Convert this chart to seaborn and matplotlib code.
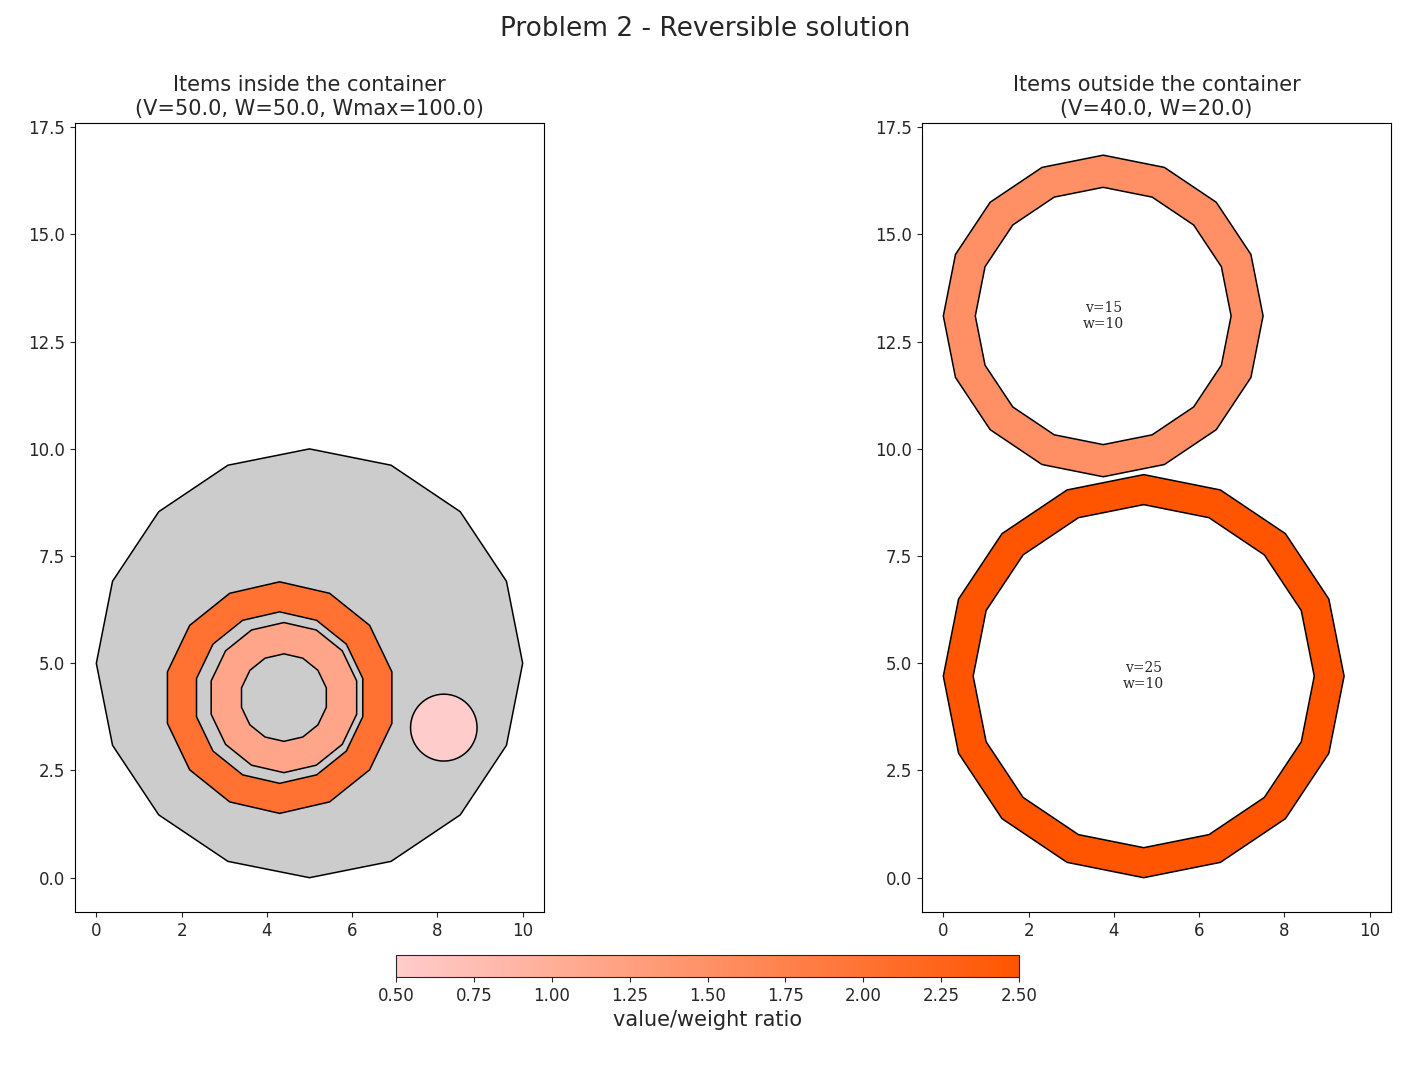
import numpy as np
import matplotlib
matplotlib.use("Agg")
import matplotlib.pyplot as plt
import seaborn as sns
from matplotlib.path import Path
from matplotlib.patches import PathPatch
from matplotlib.colors import LinearSegmentedColormap, Normalize
from matplotlib.cm import ScalarMappable

# container (left panel)
container_center = (5.0, 5.0)
container_radius = 5.0

# items inside: center x, center y, outer r, inner r (0 = solid), ratio
inside_cx = [4.3, 4.4, 8.15]
inside_cy = [4.2, 4.2, 3.5]
inside_r_out = [2.7, 1.75, 0.78]
inside_r_in = [2.0, 1.02, 0.0]
inside_ratio = [2.0, 1.15, 0.5]
inside_sides = [14, 14, 64]

# items outside (right panel)
outside_cx = [3.75, 4.7]
outside_cy = [13.1, 4.7]
outside_r_out = [3.75, 4.7]
outside_r_in = [3.0, 4.0]
outside_ratio = [1.5, 2.5]
outside_labels = ["v=15\nw=10", "v=25\nw=10"]

cmap = LinearSegmentedColormap.from_list("vw", ["#ffcccc", "#ff5500"])
norm = Normalize(0.5, 2.5)


def poly(cx, cy, r, n, start=np.pi / 2):
    a = start + np.linspace(0, 2 * np.pi, n, endpoint=False)
    return np.column_stack([cx + r * np.cos(a), cy + r * np.sin(a)])


def ring_patch(cx, cy, ro, ri, n, color):
    outer = poly(cx, cy, ro, n)
    verts = list(outer) + [outer[0]]
    codes = [Path.MOVETO] + [Path.LINETO] * (n - 1) + [Path.CLOSEPOLY]
    if ri > 0:
        inner = poly(cx, cy, ri, n)[::-1]
        verts += list(inner) + [inner[0]]
        codes += [Path.MOVETO] + [Path.LINETO] * (n - 1) + [Path.CLOSEPOLY]
    return PathPatch(Path(verts, codes), facecolor=color, edgecolor="black", lw=1.1)


sns.set_style("ticks")
plt.rcParams["font.family"] = ["DejaVu Sans"]
fig = plt.figure(figsize=(14.11, 10.67), dpi=100)
ax1 = fig.add_axes([75 / 1411, 1 - 912 / 1067, 469 / 1411, 789 / 1067])
ax2 = fig.add_axes([922 / 1411, 1 - 912 / 1067, 469 / 1411, 789 / 1067])

ax1.add_patch(ring_patch(*container_center, container_radius, 0, 16, "#cccccc"))
for cx, cy, ro, ri, q, n in zip(inside_cx, inside_cy, inside_r_out, inside_r_in, inside_ratio, inside_sides):
    ax1.add_patch(ring_patch(cx, cy, ro, ri, n, cmap(norm(q))))
ax1.set_title("Items inside the container\n(V=50.0, W=50.0, Wmax=100.0)", fontsize=15)

for cx, cy, ro, ri, q, lab in zip(outside_cx, outside_cy, outside_r_out, outside_r_in, outside_ratio, outside_labels):
    ax2.add_patch(ring_patch(cx, cy, ro, ri, 16, cmap(norm(q))))
    ax2.text(cx, cy, lab, ha="center", va="center", fontsize=10, family="DejaVu Serif")
ax2.set_title("Items outside the container\n(V=40.0, W=20.0)", fontsize=15)

for ax in (ax1, ax2):
    ax.set_xlim(-0.5, 10.5)
    ax.set_ylim(-0.8, 17.6)
    ax.set_xticks(range(0, 11, 2))
    ax.set_yticks(np.arange(0, 17.6, 2.5))
    ax.yaxis.set_major_formatter(matplotlib.ticker.FormatStrFormatter("%.1f"))
    ax.tick_params(labelsize=12)
    for s in ax.spines.values():
        s.set_visible(True)
        s.set_color("black")

cax = fig.add_axes([396 / 1411, 1 - 977 / 1067, 623 / 1411, 22 / 1067])
cb = fig.colorbar(ScalarMappable(norm=norm, cmap=cmap), cax=cax, orientation="horizontal")
cb.set_ticks(np.arange(0.5, 2.51, 0.25))
cb.ax.tick_params(labelsize=12)
cb.set_label("value/weight ratio", fontsize=15)

fig.suptitle("Problem 2 - Reversible solution", fontsize=19, y=0.985)
fig.savefig("out.png", dpi=100)
